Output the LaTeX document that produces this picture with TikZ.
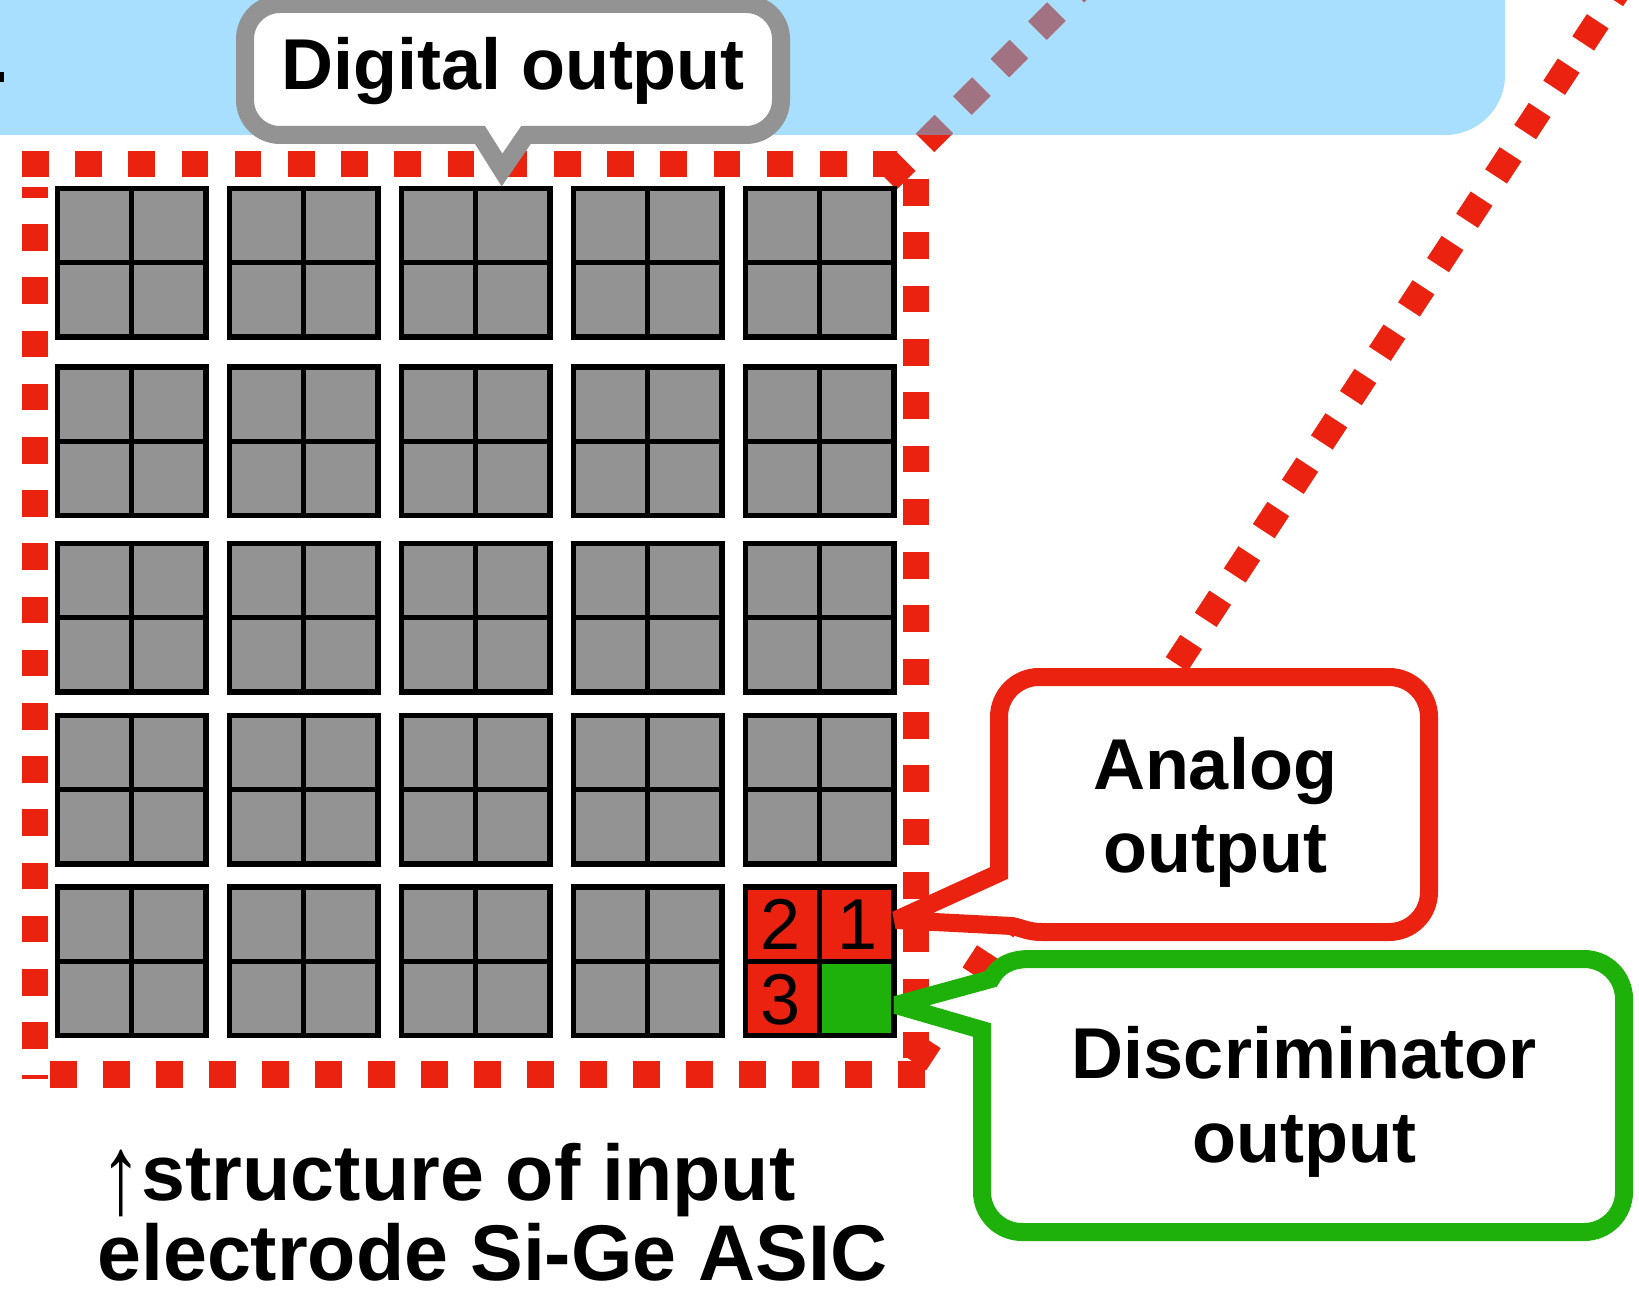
\documentclass[tikz,border=0pt]{standalone}
\usepackage{graphicx}
\usepackage{fontspec}
\setmainfont{Liberation Sans}
\definecolor{bandblue}{HTML}{A9DFFE}
\definecolor{zoomred}{HTML}{EC2210}
\definecolor{zoommauve}{HTML}{A17282}
\definecolor{padgray}{HTML}{939393}
\definecolor{tipgray}{HTML}{939393}
\definecolor{discgreen}{HTML}{1EB10A}
\begin{document}
\begin{tikzpicture}[x=1pt,y=1pt,
  zoomline/.style={draw=zoomred, line width=26pt, line cap=butt, dash pattern=on 26.5pt off 26.5pt},
  padbox/.style={fill=padgray, draw=black, line width=5.5pt},
  divider/.style={draw=black, line width=5pt},
  callout/.style={fill=white, line width=18pt, line join=miter, miter limit=2},
  calltext/.style={font=\fontsize{72}{84}\selectfont\bfseries, inner sep=0pt, anchor=base},
  captext/.style={font=\fontsize{79}{80}\selectfont\bfseries, inner sep=0pt, anchor=base west},
  quadnum/.style={font=\fontsize{72}{84}\selectfont, inner sep=0pt, anchor=base}]
\useasboundingbox (0,0) rectangle (1639,-1297);
\fill[white] (0,0) rectangle (1639,-1297);

% header band
\fill[bandblue] (0,0) -- (1505,0) -- (1505,-75) arc[start angle=0,end angle=-90,radius=60] -- (0,-135) -- cycle;
\fill[black] (0,-72) rectangle (4,-82);

% projection lines from the corners of the zoomed region
\coordinate (zoomA-from) at (887.6,-180.4);
\coordinate (zoomA-to) at (1099.7,31.7);
\coordinate (zoomB-from) at (915.3,-1063.2);
\coordinate (zoomB-to) at (1670.3,89.6);
\draw[zoomline] (zoomA-from) -- (zoomA-to);
\begin{scope}
  \clip (0,0) -- (1505,0) -- (1505,-75) arc[start angle=0,end angle=-90,radius=60] -- (0,-135) -- cycle;
  \draw[zoomline, draw=zoommauve] (zoomA-from) -- (zoomA-to);
\end{scope}
\draw[zoomline] (zoomB-from) -- (zoomB-to);

% dotted frame of the zoomed region
\draw[zoomline, dash pattern=on 26.6pt off 26.6pt] (22,-164) -- (897,-164);
\draw[zoomline, dash pattern=on 26.6pt off 26.6pt, dash phase=16pt] (35,-187) -- (35,-1079);
\draw[zoomline, dash pattern=on 26.65pt off 26.65pt] (916,-179) -- (916,-1058);
\draw[zoomline, line width=27pt] (50,-1074.5) -- (926,-1074.5);

% 5 x 5 electrode pads, each split into four
\foreach \x in {54.5,226.5,398.5,570.5,742.5} {
  \foreach \y in {186,364,540.5,712.5,884} {
    \draw[padbox] (\x+2.75,-\y-2.75) rectangle (\x+151.25,-\y-151.25);
    \draw[divider] (\x+77,-\y-5.5) -- (\x+77,-\y-148.5);
    \draw[divider] (\x+5.5,-\y-77) -- (\x+148.5,-\y-77);
  }
}
% corner pad: analog channels 1-3 and the discriminator channel
\fill[zoomred] (745.25,-886.75) rectangle (893.75,-1035.25);
\fill[discgreen] (819.5,-961) rectangle (893.75,-1035.25);
\draw[padbox, fill=none] (745.25,-886.75) rectangle (893.75,-1035.25);
\draw[divider] (819.5,-889.5) -- (819.5,-1032.5);
\draw[divider] (748,-961) -- (891,-961);
\node[quadnum] (ch2) at (781,-949) {2};
\node[quadnum] (ch1) at (858,-949) {1};
\node[quadnum] (ch3) at (781,-1024) {3};

% callout: digital output
\draw[callout, draw=tipgray] (280,-4) -- (746,-4) arc[start angle=90,end angle=0,radius=35]
  -- (781,-100) arc[start angle=0,end angle=-90,radius=35]
  -- (526,-135) -- (502,-170) -- (480,-135)
  -- (280,-135) arc[start angle=270,end angle=180,radius=35]
  -- (245,-39) arc[start angle=180,end angle=90,radius=35] -- cycle;
\node[calltext] (digital) at (513,-90) {Digital output};

% callout: analog output
\draw[callout, draw=zoomred] (1039,-677) -- (1389,-677) arc[start angle=90,end angle=0,radius=40]
  -- (1429,-892) arc[start angle=0,end angle=-90,radius=40]
  -- (1042,-932) .. controls (1028,-932) and (1022,-928) .. (1012,-926)
  -- (896,-920) -- (999,-873)
  -- (999,-717) arc[start angle=180,end angle=90,radius=40] -- cycle;
\node[calltext] (analog1) at (1215,-789) {Analog};
\node[calltext] (analog2) at (1215,-872) {output};

% callout: discriminator output
\draw[callout, draw=discgreen] (1030,-959) -- (1584,-959) arc[start angle=90,end angle=0,radius=40]
  -- (1624,-1192) arc[start angle=0,end angle=-90,radius=40]
  -- (1022,-1232) arc[start angle=270,end angle=180,radius=40]
  -- (982,-1030) -- (896,-1005) -- (991,-979)
  .. controls (998,-966) and (1010,-959) .. (1030,-959) -- cycle;
\node[calltext] (disc1) at (1304,-1078) {Discriminator};
\node[calltext] (disc2) at (1304,-1162) {output};

% caption
\node[captext, text depth=0pt] (cap1) at (100,-1200) {\smash{\raisebox{-13pt}{\scalebox{1.05}[1.43]{\mdseries ↑}}}structure of input};
\node[captext, text height=58pt] (cap2) at (97,-1280) {electrode Si-Ge ASIC};
\end{tikzpicture}
\end{document}
